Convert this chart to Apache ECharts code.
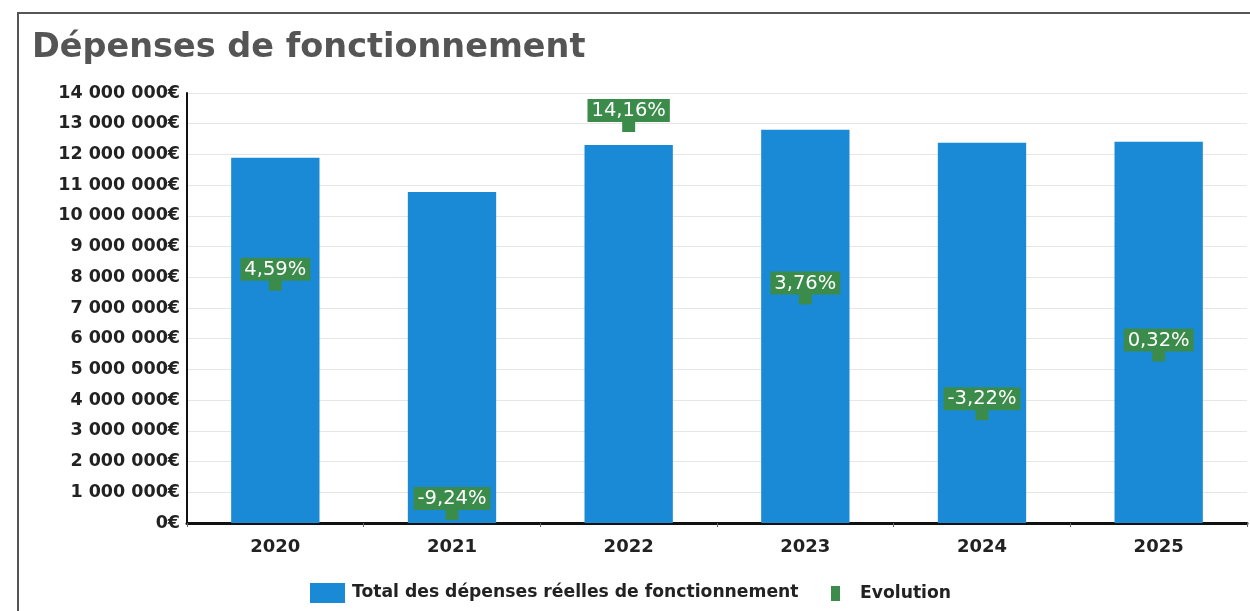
<!DOCTYPE html>
<html>
<head>
<meta charset="utf-8">
<title>Dépenses de fonctionnement</title>
<script src="https://cdn.jsdelivr.net/npm/echarts@6/dist/echarts.min.js"></script>
<style>
  html, body { margin: 0; padding: 0; background: #fff; }
  #chart { width: 1250px; height: 611px; }
</style>
</head>
<body>
<div id="chart"></div>
<script>
// données
const annees = ["2020", "2021", "2022", "2023", "2024", "2025"];
const depenses = [11890000, 10780000, 12310000, 12800000, 12380000, 12410000];
const evolution = [4.59, -9.24, 14.16, 3.76, -3.22, 0.32];

const bleu = "#1b8ad6";
const vert = "#3b8c4b";

// 1 000 000€
const formatEuro = (v) =>
  String(Math.round(v)).replace(/\B(?=(\d{3})+(?!\d))/g, " ") + "€";
const formatPct = (v) => v.toFixed(2).replace(".", ",") + "%";

const myChart = echarts.init(document.getElementById("chart"));
const option = {
  animation: false,
  textStyle: { fontFamily: "DejaVu Sans" },
  title: {
    text: "Dépenses de fonctionnement",
    left: 27,
    top: 26,
    textStyle: {
      fontFamily: "DejaVu Sans",
      fontSize: 33.5,
      fontWeight: "bold",
      color: "#555",
    },
  },
  graphic: [
    {
      type: "rect",
      shape: { x: 18, y: 13, width: 1260, height: 640 },
      style: { fill: null, stroke: "#555", lineWidth: 2 },
      silent: true,
    },
  ],
  legend: [
    {
      data: [{ name: "Total des dépenses réelles de fonctionnement", icon: "rect" }],
      left: 305,
      top: 578,
      itemWidth: 35,
      itemHeight: 20,
      textStyle: {
        fontFamily: "DejaVu Sans",
        fontWeight: "bold",
        fontSize: 17.2,
        color: "#222",
        padding: [0, 0, 0, 2],
      },
    },
    {
      data: [{ name: "Evolution", icon: "rect" }],
      left: 826,
      top: 580,
      itemWidth: 9,
      itemHeight: 15,
      textStyle: {
        fontFamily: "DejaVu Sans",
        fontWeight: "bold",
        fontSize: 17.2,
        color: "#222",
        padding: [0, 0, 0, 15],
      },
    },
  ],
  grid: {
    left: 187,
    right: 3,
    top: 93,
    bottom: 88,
    containLabel: false,
  },
  xAxis: {
    type: "category",
    data: annees,
    axisLine: { lineStyle: { color: "#111", width: 3 } },
    axisTick: { show: true, length: 4, lineStyle: { color: "#666" } },
    axisLabel: {
      margin: 15,
      fontFamily: "DejaVu Sans",
      fontWeight: "bold",
      fontSize: 18,
      color: "#222",
    },
  },
  yAxis: [
    {
      type: "value",
      min: 0,
      max: 14000000,
      interval: 1000000,
      axisLine: { show: true, lineStyle: { color: "#111", width: 2 } },
      axisTick: { show: false },
      splitLine: { lineStyle: { color: "#e6e6e6" } },
      axisLabel: {
        margin: 7,
        fontFamily: "DejaVu Sans",
        fontWeight: "bold",
        fontSize: 17.5,
        color: "#222",
        formatter: formatEuro,
      },
    },
    {
      // axe des pourcentages, masqué
      type: "value",
      show: false,
      min: -9.78,
      max: 16.15,
      splitLine: { show: false },
    },
  ],
  series: [
    {
      name: "Total des dépenses réelles de fonctionnement",
      type: "bar",
      barWidth: "50%",
      itemStyle: { color: bleu },
      data: depenses,
    },
    {
      name: "Evolution",
      type: "scatter",
      yAxisIndex: 1,
      symbol: "rect",
      symbolSize: [13, 12],
      itemStyle: { color: vert, opacity: 1 },
      label: {
        show: true,
        position: "top",
        distance: -2,
        formatter: (p) => formatPct(p.value),
        color: "#fff",
        fontFamily: "DejaVu Sans",
        fontSize: 19.5,
        lineHeight: 20,
        backgroundColor: vert,
        padding: [2, 4, 1, 4],
      },
      data: evolution,
    },
  ],
};
myChart.setOption(option);
window.addEventListener("resize", () => myChart.resize());
</script>
</body>
</html>
